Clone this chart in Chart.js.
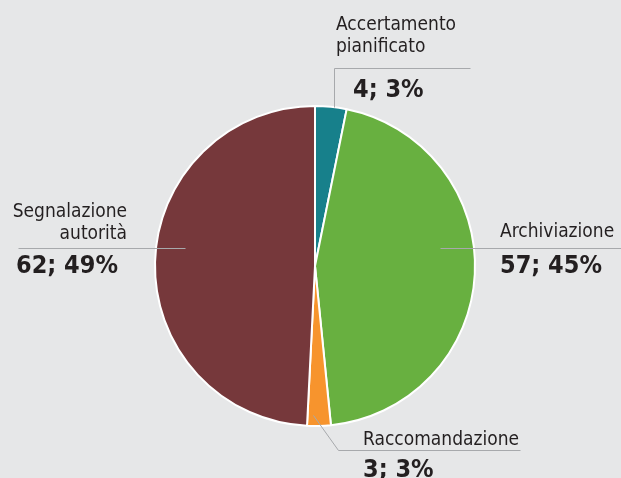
<!DOCTYPE html>
<html>
<head>
<meta charset="utf-8">
<script src="https://cdn.jsdelivr.net/npm/chart.js@4"></script>
<style>
  html, body { margin: 0; padding: 0; background: #e6e7e8; }
  #wrap { width: 621px; height: 478px; position: relative; }
</style>
</head>
<body>
<div id="wrap"><canvas id="c" width="621" height="478"></canvas></div>
<script>
// ---- data ----
const categories = ["Accertamento pianificato", "Archiviazione", "Raccomandazione", "Segnalazione autorità"];
const values = [4, 57, 3, 62];
const percentLabels = ["3%", "45%", "3%", "49%"];
const labelLines = [["Accertamento", "pianificato"], ["Archiviazione"], ["Raccomandazione"], ["Segnalazione", "autorità"]];
const colors = ["#17808b", "#68b040", "#f7942d", "#76383b"];

// ---- label layout (offsets relative to pie centre) ----
const labelLayout = [
  { leader: [[19,-159],[19,-198],[155,-198]], textX: 21, align: "left", textY: [-236,-214], valueX: 38, valueY: -169 },
  { leader: [[125,-18],[306,-18]], textX: 185, align: "left", textY: [-29], valueX: 185, valueY: 7 },
  { leader: [[-2,149],[23,184],[205,184]], textX: 48, align: "left", textY: [179], valueX: 48, valueY: 211 },
  { leader: [[-297,-18],[-130,-18]], textX: -188, align: "right", textY: [-49,-27], valueX: -299, valueY: 7 }
];

const REG_FONT = '19px "DejaVu Sans Condensed", "Liberation Sans Narrow", "Liberation Sans", sans-serif';
const BOLD_FONT = 'bold 25px "DejaVu Sans Condensed", "Liberation Sans Narrow", "Liberation Sans", sans-serif';

const labelPlugin = {
  id: 'calloutLabels',
  afterDatasetsDraw(chart) {
    const ctx = chart.ctx;
    const meta = chart.getDatasetMeta(0);
    const arc0 = meta.data[0];
    const cx = arc0.x, cy = arc0.y;
    ctx.save();
    labelLayout.forEach((L, i) => {
      ctx.strokeStyle = "#a7a9ac";
      ctx.lineWidth = 1;
      ctx.beginPath();
      L.leader.forEach((p, k) => {
        const x = Math.round(cx + p[0]) + 0.5, y = Math.round(cy + p[1]) + 0.5;
        if (k === 0) ctx.moveTo(x, y); else ctx.lineTo(x, y);
      });
      ctx.stroke();
      ctx.fillStyle = "#231f20";
      ctx.textBaseline = "alphabetic";
      ctx.font = REG_FONT;
      ctx.textAlign = L.align;
      labelLines[i].forEach((t, k) => {
        ctx.fillText(t, cx + L.textX, cy + L.textY[k]);
      });
      ctx.font = BOLD_FONT;
      ctx.textAlign = "left";
      ctx.fillText(values[i] + "; " + percentLabels[i], cx + L.valueX, cy + L.valueY);
    });
    ctx.restore();
  }
};

new Chart(document.getElementById('c'), {
  type: 'pie',
  data: {
    labels: categories,
    datasets: [{
      data: values,
      backgroundColor: colors,
      borderColor: "#ffffff",
      borderWidth: 2
    }]
  },
  options: {
    responsive: false,
    animation: false,
    layout: { padding: { top: 105, bottom: 51, left: 154, right: 145 } },
    plugins: { legend: { display: false }, tooltip: { enabled: false } }
  },
  plugins: [labelPlugin]
});
</script>
</body>
</html>
